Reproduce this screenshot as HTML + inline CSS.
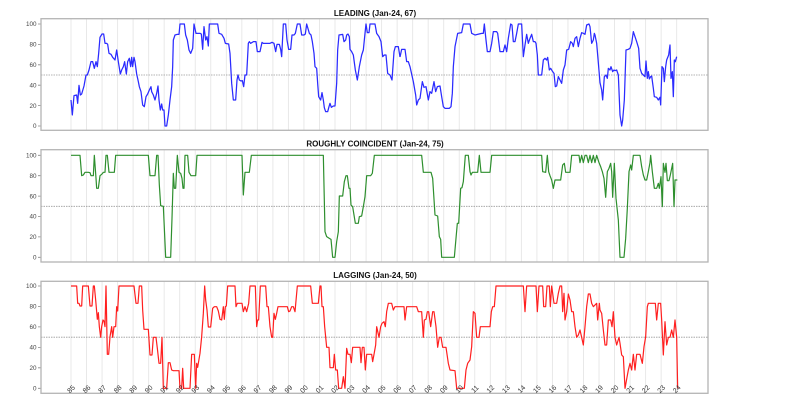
<!DOCTYPE html>
<html><head><meta charset="utf-8"><style>
html,body{margin:0;padding:0;background:#fff;}
svg{display:block;}
text{font-family:"Liberation Sans",sans-serif;}
.t{font-size:8px;font-weight:bold;fill:#111;text-anchor:middle;}
.yl{font-size:6.3px;fill:#444;text-anchor:end;}
.xl{font-size:7px;fill:#333;text-anchor:middle;}
</style></head><body>
<svg width="800" height="403" viewBox="0 0 800 403" xmlns="http://www.w3.org/2000/svg">
<rect width="800" height="403" fill="#fff"/>
<defs>
<path id="vg" d="M71 0V1M86.53 0V1M102.06 0V1M117.59 0V1M133.12 0V1M148.65 0V1M164.18 0V1M179.71 0V1M195.24 0V1M210.77 0V1M226.3 0V1M241.83 0V1M257.36 0V1M272.89 0V1M288.42 0V1M303.95 0V1M319.48 0V1M335.01 0V1M350.54 0V1M366.07 0V1M381.6 0V1M397.13 0V1M412.66 0V1M428.19 0V1M443.72 0V1M459.25 0V1M474.78 0V1M490.31 0V1M505.84 0V1M521.37 0V1M536.9 0V1M552.43 0V1M567.96 0V1M583.49 0V1M599.02 0V1M614.55 0V1M630.08 0V1M645.61 0V1M661.14 0V1M676.67 0V1"/>
</defs>
<g stroke="#e6e6e6" stroke-width="0.9" fill="none">
<use href="#vg" transform="translate(0,19) scale(1,111)" vector-effect="non-scaling-stroke"/>
<use href="#vg" transform="translate(0,150) scale(1,112)" vector-effect="non-scaling-stroke"/>
<use href="#vg" transform="translate(0,281.5) scale(1,112)" vector-effect="non-scaling-stroke"/>
</g>
<g stroke="#9a9a9a" stroke-width="0.8" stroke-dasharray="1.5,1">
<line x1="41" y1="75" x2="708" y2="75"/>
<line x1="41" y1="206.3" x2="708" y2="206.3"/>
<line x1="41" y1="337.2" x2="708" y2="337.2"/>
</g>
<text class="t" x="375" y="16">LEADING (Jan-24, 67)</text>
<text class="t" x="375" y="146.6">ROUGHLY COINCIDENT (Jan-24, 75)</text>
<text class="t" x="375" y="277.8">LAGGING (Jan-24, 50)</text>
<g stroke="#888" stroke-width="0.8">
<path d="M38 24H41M38 44.4H41M38 64.8H41M38 85.2H41M38 105.6H41M38 126H41"/>
<path d="M38 155.3H41M38 175.7H41M38 196.1H41M38 216.5H41M38 236.9H41M38 257.3H41"/>
<path d="M38 286H41M38 306.5H41M38 326.9H41M38 347.4H41M38 367.8H41M38 388.3H41"/>
</g>
<g class="yl">
<text x="36.5" y="24" dy="0.35em">100</text><text x="36.5" y="44.4" dy="0.35em">80</text><text x="36.5" y="64.8" dy="0.35em">60</text><text x="36.5" y="85.2" dy="0.35em">40</text><text x="36.5" y="105.6" dy="0.35em">20</text><text x="36.5" y="126" dy="0.35em">0</text>
<text x="36.5" y="155.3" dy="0.35em">100</text><text x="36.5" y="175.7" dy="0.35em">80</text><text x="36.5" y="196.1" dy="0.35em">60</text><text x="36.5" y="216.5" dy="0.35em">40</text><text x="36.5" y="236.9" dy="0.35em">20</text><text x="36.5" y="257.3" dy="0.35em">0</text>
<text x="36.5" y="286" dy="0.35em">100</text><text x="36.5" y="306.5" dy="0.35em">80</text><text x="36.5" y="326.9" dy="0.35em">60</text><text x="36.5" y="347.4" dy="0.35em">40</text><text x="36.5" y="367.8" dy="0.35em">20</text><text x="36.5" y="388.3" dy="0.35em">0</text>
</g>
<g fill="none" stroke="#2b2bff" stroke-width="1.25" stroke-linejoin="round">
<polyline vector-effect="non-scaling-stroke" transform="scale(0.333333)" points="213,300 217,345 222,287 230,285 233,310 237,256 241,285 245,282 252,258 258,225 262,225 267,210 273,185 278,185 283,205 288,185 292,200 296,160 300,112 306,102 311,102 315,130 320,130 323,133 327,160 333,163 338,172 345,180 350,150 355,185 361,222 365,210 370,200 374,185 379,222 383,185 388,175 392,200 395,172 398,200 402,172 405,185 410,222 415,245 418,260 423,275 428,315 433,320 438,290 443,282 448,270 453,260 455,275 460,285 465,300 470,280 474,258 477,300 481,330 485,312 488,330 492,330 495,378 500,378 505,345 510,300 515,260 518,200 520,120 525,105 532,103 537,103 540,72 553,72 557,105 562,120 567,150 572,160 578,145 582,72 588,100 600,100 604,102 608,148 612,80 617,120 621,110 625,138 628,72 653,72 657,100 665,103 672,115 676,130 686,132 690,160 695,250 700,300 707,300 711,240 714,225 718,240 723,243 727,242 731,260 735,225 740,225 745,130 748,125 752,130 757,127 760,125 768,125 772,155 780,155 786,127 790,130 810,130 816,127 822,130 827,155 831,133 838,133 842,148 845,170 850,72 857,72 861,120 866,148 872,148 876,105 882,105 886,100 892,72 900,72 905,105 912,105 916,102 920,72 928,100 933,105 937,125 942,160 945,200 950,205 953,250 956,290 962,300 966,278 970,300 973,323 977,335 983,335 987,320 990,310 994,322 1000,318 1005,318 1010,250 1013,150 1017,105 1028,103 1032,125 1037,120 1040,105 1044,102 1048,110 1050,148 1055,155 1060,165 1066,210 1072,240 1078,200 1085,165 1090,150 1095,100 1098,72 1102,98 1107,98 1110,72 1125,72 1130,100 1137,110 1143,125 1148,170 1153,165 1158,165 1163,220 1170,225 1176,240 1182,155 1186,140 1195,140 1200,171"/>
<polyline vector-effect="non-scaling-stroke" transform="translate(400,0) scale(0.333333)" points="0,171 5,148 15,148 20,185 25,185 30,200 40,245 47,285 50,315 55,300 60,295 67,245 72,262 78,260 85,300 90,275 95,280 102,245 107,275 112,260 120,258 125,290 130,320 135,325 148,325 153,320 157,280 160,200 165,140 173,100 185,98 190,72 210,72 215,100 225,105 245,100 250,100 253,72 258,120 262,155 270,155 275,130 280,95 290,95 293,100 300,155 310,155 315,135 320,155 325,115 332,72 336,75 340,125 345,125 350,100 355,72 365,72 370,170 375,135 380,103 385,130 390,115 395,103 400,125 405,125 408,130 412,165 415,225 425,225 430,180 435,175 440,180 443,172 448,210 452,205 458,215 462,220 466,260 470,258 475,230 480,240 485,250 490,210 495,195 500,150 506,148 512,125 517,130 520,140 525,115 530,110 535,140 540,115 545,98 550,100 555,103 560,75 567,72 570,80 575,130 580,120 583,100 585,105 590,130 596,200 600,248 605,270 608,300 613,230 618,225 622,235 625,205 630,210 633,200 638,215 642,210 645,212 650,210 655,225 660,345 665,378 668,360 673,300 678,150 685,148 690,145 695,130 700,95 705,110 710,125 716,145 720,205 725,220 730,225 735,230 738,183 742,235 745,215 748,237 752,230 755,228 760,265 763,290 770,292 775,300 780,292 782,315 786,200 790,205 793,245 797,200 800,180 806,165 810,135 813,235 817,215 820,290 823,180 826,185 830,170"/>
</g>
<g fill="none" stroke="#2e8f2e" stroke-width="1.2" stroke-linejoin="round">
<polyline vector-effect="non-scaling-stroke" transform="translate(0,135) scale(0.333333)" points="213,61 240,61 245,122 250,120 255,112 265,112 270,113 273,122 280,122 283,61 288,130 290,160 295,160 300,122 305,118 310,112 315,112 318,61 322,61 327,112 343,112 347,61 445,61 450,122 465,122 470,61 474,61 478,150 482,212 490,214 497,367 512,367 516,250 520,115 523,160 527,160 532,61 537,112 542,115 546,130 549,160 552,160 555,61 563,61 567,112 573,122 587,122 591,61 726,61 730,180 735,112 748,112 754,61 970,61 975,290 980,305 988,310 993,313 998,367 1005,367 1010,320 1015,290 1018,183 1028,183 1033,140 1038,122 1042,122 1047,160 1050,160 1053,210 1058,215 1062,240 1066,265 1075,265 1078,245 1085,243 1090,215 1095,185 1100,122 1112,122 1117,115 1123,61 1200,61"/>
<polyline vector-effect="non-scaling-stroke" transform="translate(400,135) scale(0.333333)" points="0,61 65,61 70,112 93,112 98,130 105,240 113,243 118,305 122,313 125,367 163,367 168,310 172,265 176,265 182,160 186,158 190,140 193,100 196,61 205,61 210,110 213,120 217,112 233,112 238,61 243,112 270,112 275,61 425,61 428,110 437,112 442,61 446,110 450,122 455,135 460,160 465,135 482,135 488,90 493,85 497,112 510,112 515,61 537,61 540,83 545,61 550,83 555,61 560,61 565,83 570,61 575,83 580,61 585,83 590,61 597,83 602,95 607,110 612,130 617,187 622,110 627,100 632,85 635,110 638,187 643,85 648,190 655,255 660,367 672,367 677,310 682,220 687,110 692,90 695,105 700,61 720,61 725,95 730,120 735,135 740,135 745,110 750,83 752,61 757,110 763,160 770,160 775,145 778,160 783,125 787,215 790,85 795,112 798,85 802,137 807,137 811,120 815,100 818,85 822,215 825,135 832,135"/>
</g>
<g fill="none" stroke="#ff1f1f" stroke-width="1.2" stroke-linejoin="round">
<polyline vector-effect="non-scaling-stroke" transform="translate(0,260) scale(0.333333)" points="213,78 230,78 233,130 237,130 240,138 245,138 248,78 265,78 270,138 276,138 280,78 283,78 287,120 290,155 292,178 295,158 298,200 302,232 305,200 309,180 312,183 315,200 318,78 322,283 326,283 330,230 335,200 338,232 342,200 347,200 350,140 353,153 357,78 402,78 408,130 414,130 418,78 425,78 428,150 432,208 445,208 450,285 456,285 460,232 468,232 472,265 477,310 482,310 486,232 490,385 500,385 505,308 510,308 515,330 520,332 537,332 540,385 545,385 548,325 551,385 570,385 575,283 583,283 587,385 590,310 593,322 600,280 605,230 610,160 614,78 617,120 621,150 625,201 632,201 638,145 643,140 650,140 655,153 660,178 665,180 670,140 673,178 676,140 679,138 683,78 705,78 708,140 712,130 726,130 730,155 735,140 740,155 746,130 750,78 766,78 770,200 773,180 776,180 781,78 797,78 801,140 805,140 810,200 815,232 818,232 822,160 826,178 830,160 834,140 862,140 866,155 870,153 875,140 880,140 885,155 892,78 932,78 937,130 955,130 960,78 963,78 966,140 970,140 974,200 980,262 987,262 990,323 1000,323 1003,283 1007,330 1012,330 1016,385 1025,385 1030,350 1035,385 1040,265 1044,283 1050,283 1054,308 1058,262 1080,262 1083,308 1087,262 1092,262 1096,330 1100,283 1115,283 1118,305 1122,283 1127,255 1130,200 1137,232 1142,200 1146,190 1152,185 1156,200 1160,155 1165,130 1175,130 1180,150 1185,140 1200,140"/>
<polyline vector-effect="non-scaling-stroke" transform="translate(400,260) scale(0.333333)" points="0,140 12,140 15,180 20,140 50,140 55,155 65,155 70,232 73,180 78,178 82,155 86,155 92,200 98,155 102,155 108,200 113,262 118,232 123,232 128,262 138,262 145,310 150,330 165,332 170,385 193,385 198,330 203,310 210,300 215,260 220,155 225,160 230,232 237,232 241,200 270,200 274,155 278,140 283,140 288,78 370,78 375,155 380,78 408,78 412,155 417,78 428,78 431,140 437,140 441,78 448,78 451,140 455,78 458,100 462,130 470,130 475,100 480,78 485,78 488,155 492,100 495,180 500,155 505,102 510,120 515,155 520,155 525,200 530,232 535,225 540,210 545,232 550,255 555,200 560,140 565,102 570,102 575,130 580,140 590,130 593,180 598,130 600,150 605,160 610,210 615,255 620,255 625,180 632,180 636,200 640,155 645,232 650,255 657,232 660,250 665,285 670,290 675,385 685,330 690,310 695,330 700,283 705,330 710,283 720,283 727,310 732,260 737,230 742,140 745,130 766,130 770,180 775,130 782,130 785,180 790,285 795,185 800,255 805,232 810,232 815,210 820,232 825,180 830,232 833,385"/>
</g>
<g fill="none" stroke="#b4b4b4" stroke-width="1.3">
<rect x="41" y="18.7" width="667" height="111.6"/>
<rect x="41" y="149.7" width="667" height="112.3"/>
<rect x="41" y="281.3" width="667" height="112"/>
</g>
<g class="xl">
<text transform="translate(71,389) rotate(-45)" dy="0.35em">85</text>
<text transform="translate(86.53,389) rotate(-45)" dy="0.35em">86</text>
<text transform="translate(102.06,389) rotate(-45)" dy="0.35em">87</text>
<text transform="translate(117.59,389) rotate(-45)" dy="0.35em">88</text>
<text transform="translate(133.12,389) rotate(-45)" dy="0.35em">89</text>
<text transform="translate(148.65,389) rotate(-45)" dy="0.35em">90</text>
<text transform="translate(164.18,389) rotate(-45)" dy="0.35em">91</text>
<text transform="translate(179.71,389) rotate(-45)" dy="0.35em">92</text>
<text transform="translate(195.24,389) rotate(-45)" dy="0.35em">93</text>
<text transform="translate(210.77,389) rotate(-45)" dy="0.35em">94</text>
<text transform="translate(226.3,389) rotate(-45)" dy="0.35em">95</text>
<text transform="translate(241.83,389) rotate(-45)" dy="0.35em">96</text>
<text transform="translate(257.36,389) rotate(-45)" dy="0.35em">97</text>
<text transform="translate(272.89,389) rotate(-45)" dy="0.35em">98</text>
<text transform="translate(288.42,389) rotate(-45)" dy="0.35em">99</text>
<text transform="translate(303.95,389) rotate(-45)" dy="0.35em">00</text>
<text transform="translate(319.48,389) rotate(-45)" dy="0.35em">01</text>
<text transform="translate(335.01,389) rotate(-45)" dy="0.35em">02</text>
<text transform="translate(350.54,389) rotate(-45)" dy="0.35em">03</text>
<text transform="translate(366.07,389) rotate(-45)" dy="0.35em">04</text>
<text transform="translate(381.6,389) rotate(-45)" dy="0.35em">05</text>
<text transform="translate(397.13,389) rotate(-45)" dy="0.35em">06</text>
<text transform="translate(412.66,389) rotate(-45)" dy="0.35em">07</text>
<text transform="translate(428.19,389) rotate(-45)" dy="0.35em">08</text>
<text transform="translate(443.72,389) rotate(-45)" dy="0.35em">09</text>
<text transform="translate(459.25,389) rotate(-45)" dy="0.35em">10</text>
<text transform="translate(474.78,389) rotate(-45)" dy="0.35em">11</text>
<text transform="translate(490.31,389) rotate(-45)" dy="0.35em">12</text>
<text transform="translate(505.84,389) rotate(-45)" dy="0.35em">13</text>
<text transform="translate(521.37,389) rotate(-45)" dy="0.35em">14</text>
<text transform="translate(536.9,389) rotate(-45)" dy="0.35em">15</text>
<text transform="translate(552.43,389) rotate(-45)" dy="0.35em">16</text>
<text transform="translate(567.96,389) rotate(-45)" dy="0.35em">17</text>
<text transform="translate(583.49,389) rotate(-45)" dy="0.35em">18</text>
<text transform="translate(599.02,389) rotate(-45)" dy="0.35em">19</text>
<text transform="translate(614.55,389) rotate(-45)" dy="0.35em">20</text>
<text transform="translate(630.08,389) rotate(-45)" dy="0.35em">21</text>
<text transform="translate(645.61,389) rotate(-45)" dy="0.35em">22</text>
<text transform="translate(661.14,389) rotate(-45)" dy="0.35em">23</text>
<text transform="translate(676.67,389) rotate(-45)" dy="0.35em">24</text>
</g>
</svg>
</body></html>
